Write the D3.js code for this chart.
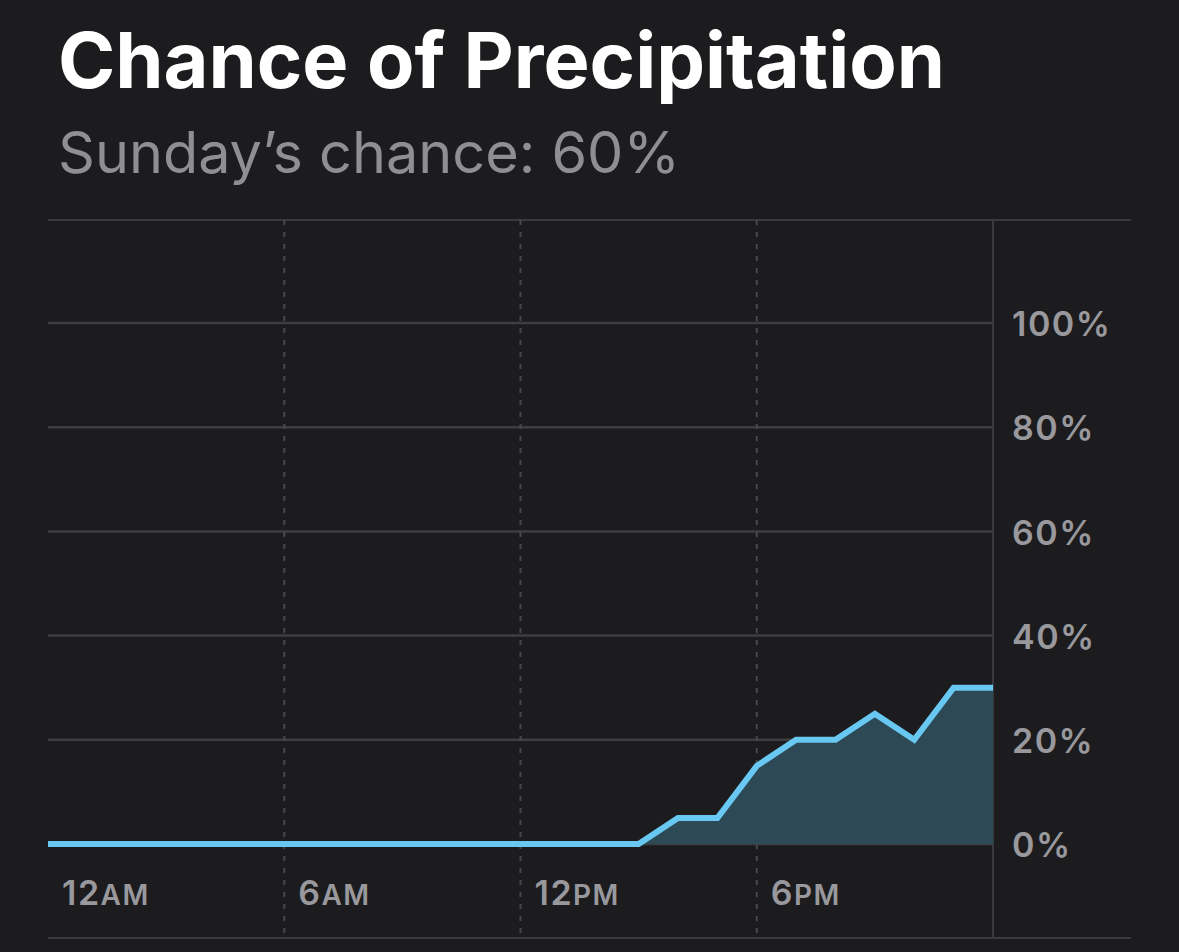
<!DOCTYPE html>
<html>
<head>
<meta charset="utf-8">
<script src="https://cdn.jsdelivr.net/npm/d3@7"></script>
<style>
  html, body { margin: 0; padding: 0; background: #1c1c1e; }
  svg { display: block; font-family: Inter, "Noto Sans", sans-serif; }
</style>
</head>
<body>
<div id="chart"></div>
<script>
const hours = [0, 1, 2, 3, 4, 5, 6, 7, 8, 9, 10, 11, 12, 13, 14, 15, 16, 17, 18, 19, 20, 21, 22, 23, 24];
const chance = [0, 0, 0, 0, 0, 0, 0, 0, 0, 0, 0, 0, 0, 0, 0, 0, 5, 5, 15, 20, 20, 25, 20, 30, 30];
const xTickHours = [0, 6, 12, 18];
const xTickNumbers = ["12", "6", "12", "6"];
const xTickSuffixes = ["AM", "AM", "PM", "PM"];
const yTicks = [0, 20, 40, 60, 80, 100];
const titleText = "Chance of Precipitation";
const subtitleText = "Sunday\u2019s chance: 60%";

const width = 1179;
const height = 952;
const plot = { left: 48, right: 993, top: 220, bottom: 938, outer: 1131 };

const x = d3.scaleLinear().domain([0, 24]).range([plot.left, plot.right]);
const y = d3.scaleLinear().domain([0, 100]).range([844, 323]);

const svg = d3
  .select("#chart")
  .append("svg")
  .attr("width", width)
  .attr("height", height)
  .attr("viewBox", [0, 0, width, height]);

svg.append("rect").attr("width", width).attr("height", height).attr("fill", "#1c1c1e");

// fit heading text to the measured widths
function fitText(sel, targetWidth) {
  const size = parseFloat(sel.attr("font-size"));
  const w = sel.node().getComputedTextLength();
  sel.attr("font-size", (size * targetWidth) / w);
}

const title = svg
  .append("text")
  .attr("x", 58)
  .attr("y", 88)
  .attr("fill", "#ffffff")
  .attr("font-size", 80)
  .attr("font-weight", 700)
  .text(titleText);
fitText(title, 887);

const subtitle = svg
  .append("text")
  .attr("x", 58)
  .attr("y", 173)
  .attr("fill", "#8e8e93")
  .attr("font-size", 54)
  .attr("font-weight", 400)
  .text(subtitleText);
fitText(subtitle, 622);

// frame lines
svg.append("line")
  .attr("x1", plot.left).attr("x2", plot.outer)
  .attr("y1", plot.top).attr("y2", plot.top)
  .attr("stroke", "#3a3a3c").attr("stroke-width", 2);

svg.append("line")
  .attr("x1", plot.left).attr("x2", plot.outer)
  .attr("y1", plot.bottom).attr("y2", plot.bottom)
  .attr("stroke", "#3a3a3c").attr("stroke-width", 2);

// horizontal gridlines
svg.append("g")
  .selectAll("line")
  .data(yTicks)
  .join("line")
  .attr("x1", plot.left)
  .attr("x2", plot.right)
  .attr("y1", (d) => y(d))
  .attr("y2", (d) => y(d))
  .attr("stroke", "#3e3e41")
  .attr("stroke-width", 2.5);

// dashed hour gridlines
svg.append("g")
  .selectAll("line")
  .data(xTickHours.slice(1))
  .join("line")
  .attr("x1", (d) => x(d))
  .attr("x2", (d) => x(d))
  .attr("y1", plot.top)
  .attr("y2", plot.bottom)
  .attr("stroke", "#48484b")
  .attr("stroke-width", 2)
  .attr("stroke-dasharray", "5,7");

// right axis line
svg.append("line")
  .attr("x1", plot.right).attr("x2", plot.right)
  .attr("y1", plot.top).attr("y2", plot.bottom)
  .attr("stroke", "#3a3a3c").attr("stroke-width", 2);

const series = hours.map((h, i) => ({ hour: h, value: chance[i] }));

const area = d3
  .area()
  .x((d) => x(d.hour))
  .y0(y(0))
  .y1((d) => y(d.value));

const line = d3
  .line()
  .x((d) => x(d.hour))
  .y((d) => y(d.value));

svg.append("path")
  .datum(series)
  .attr("fill", "#2e4956")
  .attr("d", area);

svg.append("path")
  .datum(series)
  .attr("fill", "none")
  .attr("stroke", "#68c8f2")
  .attr("stroke-width", 6)
  .attr("stroke-linejoin", "miter")
  .attr("d", line);

// y labels on the right
svg.append("g")
  .selectAll("text")
  .data(yTicks)
  .join("text")
  .attr("x", 1012)
  .attr("y", (d) => y(d) + 1)
  .attr("dy", "0.36em")
  .attr("fill", "#98989d")
  .attr("font-size", 34)
  .attr("font-weight", 600)
  .attr("letter-spacing", 1.5)
  .text((d) => `${d}%`);

// x labels with small-caps suffixes
const xLabels = svg.append("g")
  .selectAll("text")
  .data(xTickHours)
  .join("text")
  .attr("x", (d) => x(d) + 14)
  .attr("y", 905)
  .attr("fill", "#98989d")
  .attr("font-weight", 600)
  .attr("letter-spacing", 1.5);

xLabels.append("tspan")
  .attr("font-size", 34)
  .text((d, i) => xTickNumbers[i]);

xLabels.append("tspan")
  .attr("font-size", 28)
  .text((d, i) => xTickSuffixes[i]);
</script>
</body>
</html>
